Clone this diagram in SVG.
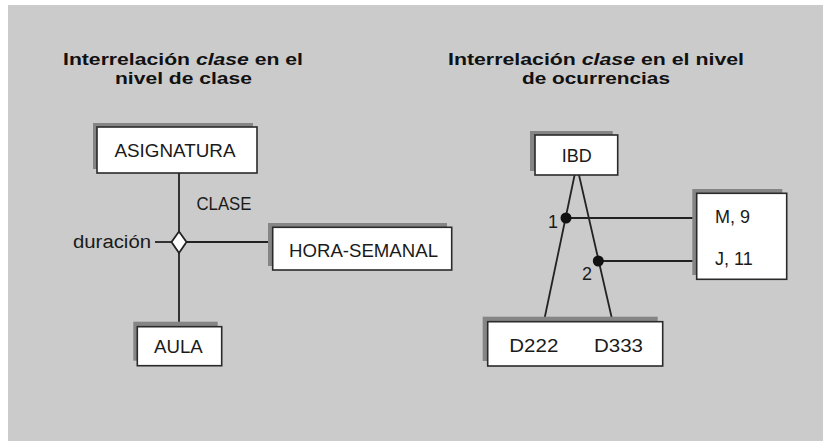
<svg xmlns="http://www.w3.org/2000/svg" width="823" height="441" viewBox="0 0 823 441">
<style>
.bg{fill:#cbcbcb}
.shadow{fill:#858585}
.box{fill:#ffffff;stroke:#2a2a2a;stroke-width:1.6}
.lbl{font-family:"Liberation Sans",Arial,sans-serif;font-size:18px;fill:#1a1a1a}
.ttl{font-family:"Liberation Sans",Arial,sans-serif;font-size:16.5px;font-weight:bold;fill:#111}
.ln{stroke:#222;stroke-width:1.8;fill:none}
.dot{fill:#111}
</style>
<rect class="bg" x="8" y="5" width="815" height="436"/>
<g id="title-left">
<text class="ttl" x="183" y="64.5" text-anchor="middle" textLength="240" lengthAdjust="spacingAndGlyphs">Interrelación <tspan font-style="italic">clase</tspan> en el</text>
<text class="ttl" x="183.5" y="83.5" text-anchor="middle" textLength="137" lengthAdjust="spacingAndGlyphs">nivel de clase</text>
</g>
<g id="title-right">
<text class="ttl" x="596" y="64.5" text-anchor="middle" textLength="296" lengthAdjust="spacingAndGlyphs">Interrelación <tspan font-style="italic">clase</tspan> en el nivel</text>
<text class="ttl" x="596" y="83.5" text-anchor="middle" textLength="148" lengthAdjust="spacingAndGlyphs">de ocurrencias</text>
</g>
<g id="connectors">
<line class="ln" x1="179" y1="173" x2="179" y2="231"/>
<line class="ln" x1="179" y1="253" x2="179" y2="322"/>
<line class="ln" x1="155" y1="242" x2="172" y2="242"/>
<line class="ln" x1="186" y1="242" x2="269" y2="242"/>
<line class="ln" x1="576.7" y1="165" x2="541.7" y2="332"/>
<line class="ln" x1="576.7" y1="165" x2="615" y2="332"/>
<line class="ln" x1="566" y1="218" x2="713" y2="218"/>
<line class="ln" x1="598" y1="261" x2="713" y2="261"/>
<circle class="dot" cx="566" cy="218" r="5.5"/>
<circle class="dot" cx="598.3" cy="261" r="5.5"/>
<text class="lbl" x="548" y="228">1</text>
<text class="lbl" x="582" y="280">2</text>
</g>
<g id="asignatura">
<rect class="shadow" x="93" y="123" width="160" height="46"/>
<rect class="box" x="97" y="127" width="160" height="46"/>
<text class="lbl" x="175" y="157" text-anchor="middle" textLength="121" lengthAdjust="spacingAndGlyphs">ASIGNATURA</text>
</g>
<g id="clase">
<polygon points="179,231.5 186.5,242 179,253 171.5,242" fill="#fff" stroke="#222" stroke-width="1.8"/>
<text class="lbl" x="196.5" y="210" textLength="55" lengthAdjust="spacingAndGlyphs">CLASE</text>
<text class="lbl" x="73" y="248" textLength="78" lengthAdjust="spacingAndGlyphs">duración</text>
</g>
<g id="hora-semanal">
<rect class="shadow" x="268" y="223" width="179" height="43"/>
<rect class="box" x="272.7" y="227.3" width="179" height="42.7"/>
<text class="lbl" x="289" y="257" textLength="149" lengthAdjust="spacingAndGlyphs">HORA-SEMANAL</text>
</g>
<g id="aula">
<rect class="shadow" x="133.3" y="321.7" width="84.4" height="39"/>
<rect class="box" x="137.3" y="326.7" width="84.4" height="39"/>
<text class="lbl" x="154" y="352.5" textLength="48.7" lengthAdjust="spacingAndGlyphs">AULA</text>
</g>
<g id="ibd">
<rect class="shadow" x="530" y="131" width="82.7" height="40"/>
<rect class="box" x="535" y="135" width="82.7" height="40"/>
<text class="lbl" x="576.7" y="162" text-anchor="middle">IBD</text>
</g>
<g id="horas">
<rect class="shadow" x="692.3" y="189" width="90" height="86"/>
<rect class="box" x="696.7" y="193.3" width="90" height="86"/>
<text class="lbl" x="715" y="223">M, 9</text>
<text class="lbl" x="715" y="265">J, 11</text>
</g>
<g id="docentes">
<rect class="shadow" x="482.7" y="316.7" width="175" height="44.3"/>
<rect class="box" x="487.7" y="321.7" width="175" height="44.3"/>
<text class="lbl" x="509.3" y="352" textLength="49" lengthAdjust="spacingAndGlyphs">D222</text>
<text class="lbl" x="594" y="352" textLength="49" lengthAdjust="spacingAndGlyphs">D333</text>
</g>
</svg>
